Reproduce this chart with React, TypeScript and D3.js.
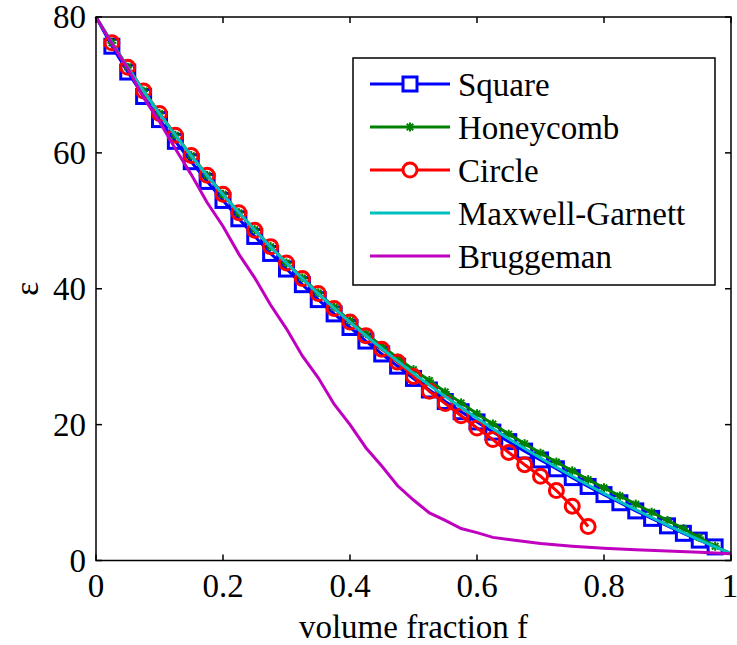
import React from "react";
import * as d3 from "d3";

const fGrid = [0.025, 0.05, 0.075, 0.1, 0.125, 0.15, 0.175, 0.2, 0.225, 0.25, 0.275, 0.3, 0.325, 0.35, 0.375, 0.4, 0.425, 0.45, 0.475, 0.5, 0.525, 0.55, 0.575, 0.6, 0.625, 0.65, 0.675, 0.7, 0.725, 0.75, 0.775, 0.8, 0.825, 0.85, 0.875, 0.9, 0.925, 0.95, 0.975];

const squareEps = [75.7, 71.9, 68.3, 64.9, 61.7, 58.7, 55.8, 53.0, 50.3, 47.7, 45.2, 42.9, 40.6, 38.4, 36.3, 34.3, 32.3, 30.4, 28.6, 26.8, 25.1, 23.4, 21.9, 20.4, 18.9, 17.5, 16.1, 14.8, 13.5, 12.2, 10.9, 9.7, 8.5, 7.3, 6.2, 5.1, 4.0, 3.0, 2.0];

const honeycombEps = [76.2, 72.6, 69.1, 65.8, 62.6, 59.6, 56.7, 53.9, 51.2, 48.7, 46.2, 43.8, 41.6, 39.4, 37.3, 35.3, 33.4, 31.6, 29.8, 28.1, 26.5, 24.8, 23.2, 21.6, 20.1, 18.6, 17.2, 15.8, 14.5, 13.2, 11.9, 10.7, 9.5, 8.3, 7.1, 5.9, 4.7, 3.4, 2.1];

const circleF = [0.025, 0.05, 0.075, 0.1, 0.125, 0.15, 0.175, 0.2, 0.225, 0.25, 0.275, 0.3, 0.325, 0.35, 0.375, 0.4, 0.425, 0.45, 0.475, 0.5, 0.525, 0.55, 0.575, 0.6, 0.625, 0.65, 0.675, 0.7, 0.725, 0.75, 0.775];
const circleEps = [76.2, 72.6, 69.1, 65.8, 62.6, 59.6, 56.7, 53.9, 51.2, 48.6, 46.2, 43.8, 41.5, 39.3, 37.1, 35.1, 33.1, 31.1, 29.2, 27.1, 24.9, 23.1, 21.3, 19.5, 17.8, 15.9, 14.1, 12.4, 10.3, 8.0, 5.0];

const mgF = [0, 0.025, 0.05, 0.075, 0.1, 0.125, 0.15, 0.175, 0.2, 0.225, 0.25, 0.275, 0.3, 0.325, 0.35, 0.375, 0.4, 0.425, 0.45, 0.475, 0.5, 0.525, 0.55, 0.575, 0.6, 0.625, 0.65, 0.675, 0.7, 0.725, 0.75, 0.775, 0.8, 0.825, 0.85, 0.875, 0.9, 0.925, 0.95, 0.975, 1.0];
const mgEps = [80, 76.19, 72.56, 69.09, 65.78, 62.61, 59.58, 56.67, 53.88, 51.21, 48.64, 46.16, 43.78, 41.49, 39.28, 37.15, 35.1, 33.11, 31.2, 29.34, 27.55, 25.82, 24.14, 22.51, 20.93, 19.41, 17.92, 16.48, 15.08, 13.73, 12.41, 11.12, 9.88, 8.66, 7.48, 6.33, 5.21, 4.11, 3.05, 2.01, 1.0];

const brugF = [0, 0.025, 0.05, 0.075, 0.1, 0.125, 0.15, 0.175, 0.2, 0.225, 0.25, 0.275, 0.3, 0.325, 0.35, 0.375, 0.4, 0.425, 0.45, 0.475, 0.5, 0.525, 0.55, 0.575, 0.6, 0.625, 0.65, 0.7, 0.75, 0.8, 0.85, 0.9, 0.95, 1.0];
const brugEps = [80, 76.1, 72.4, 68.1, 64.6, 60.6, 56.8, 52.7, 49.2, 45.1, 41.6, 37.6, 34.1, 30.1, 26.9, 23.0, 20.0, 16.6, 13.9, 11.0, 8.9, 7.0, 5.9, 4.7, 4.1, 3.4, 3.1, 2.5, 2.1, 1.8, 1.6, 1.4, 1.2, 1.0];

const xTicks = [0, 0.2, 0.4, 0.6, 0.8, 1];
const xTickLabels = ["0", "0.2", "0.4", "0.6", "0.8", "1"];
const yTicks = [0, 20, 40, 60, 80];

const legendNames = ["Square", "Honeycomb", "Circle", "Maxwell-Garnett", "Bruggeman"];
const colors = ["#0000ff", "#008000", "#ff0000", "#00bfbf", "#bf00bf"];

const W = 737, H = 645;
const L = 96, R = 731, T = 17, B = 560.5;

function Star({ x, y, c }: { x: number; y: number; c: string }) {
  const s = 4.5;
  const d = s * 0.72;
  return (
    <g stroke={c} strokeWidth={2}>
      <line x1={x - s} y1={y} x2={x + s} y2={y} />
      <line x1={x} y1={y - s} x2={x} y2={y + s} />
      <line x1={x - d} y1={y - d} x2={x + d} y2={y + d} />
      <line x1={x - d} y1={y + d} x2={x + d} y2={y - d} />
    </g>
  );
}

function T33(props: any) {
  const { children, ...rest } = props;
  return (
    <text {...rest} fontFamily="Liberation Serif" fontSize={33} fill="#000" className="serifTxt">{children}</text>
  );
}

export default function App() {
  const x = d3.scaleLinear().domain([0, 1]).range([L, R]);
  const y = d3.scaleLinear().domain([0, 80]).range([B, T]);
  const line = d3.line<[number, number]>().x((d) => x(d[0])).y((d) => y(d[1]));

  const sq = fGrid.map((f, i) => [f, squareEps[i]] as [number, number]);
  const hc = fGrid.map((f, i) => [f, honeycombEps[i]] as [number, number]);
  const ci = circleF.map((f, i) => [f, circleEps[i]] as [number, number]);
  const mg = mgF.map((f, i) => [f, mgEps[i]] as [number, number]);
  const br = brugF.map((f, i) => [f, brugEps[i]] as [number, number]);

  const lw = 3;
  const sqS = 14;
  const cr = 7;

  const legX0 = 353, legY0 = 58, legW = 362, legH = 227;
  const rowY = (i: number) => 84 + i * 43;

  return (
    <div style={{ fontFamily: '"Liberation Serif", serif', position: "absolute", left: 0, top: 0, width: W, height: H }}>
      <style>{`.serifTxt { font-family: "Liberation Serif", "Times New Roman", serif !important; }`}</style>
      <svg width={W} height={H} style={{ display: "block", background: "#fff" }} fontFamily="Liberation Serif">
        <rect x={0} y={0} width={W} height={H} fill="#fff" />
        <path d={line([[0, 80], ...sq]) || ""} fill="none" stroke={colors[0]} strokeWidth={lw} />
        {sq.map((d, i) => (
          <rect key={"s" + i} x={x(d[0]) - sqS / 2} y={y(d[1]) - sqS / 2} width={sqS} height={sqS} fill="none" stroke={colors[0]} strokeWidth={lw} />
        ))}
        <path d={line([[0, 80], ...hc, [1, 1]]) || ""} fill="none" stroke={colors[1]} strokeWidth={lw} />
        {hc.map((d, i) => (
          <Star key={"h" + i} x={x(d[0])} y={y(d[1])} c={colors[1]} />
        ))}
        <path d={line(ci) || ""} fill="none" stroke={colors[2]} strokeWidth={lw} />
        {ci.map((d, i) => (
          <circle key={"c" + i} cx={x(d[0])} cy={y(d[1])} r={cr} fill="none" stroke={colors[2]} strokeWidth={lw} />
        ))}
        <path d={line(mg) || ""} fill="none" stroke={colors[3]} strokeWidth={lw} />
        <path d={line(br) || ""} fill="none" stroke={colors[4]} strokeWidth={lw} />

        <rect x={L} y={T} width={R - L} height={B - T} fill="none" stroke="#000" strokeWidth={1.5} />
        {xTicks.map((t, i) => (
          <g key={"xt" + i}>
            <line x1={x(t)} x2={x(t)} y1={B} y2={B - 6} stroke="#000" strokeWidth={1.5} />
            <line x1={x(t)} x2={x(t)} y1={T} y2={T + 6} stroke="#000" strokeWidth={1.5} />
            <T33 x={i === xTicks.length - 1 ? x(t) - 1 : x(t)} y={B + 36} textAnchor="middle">{xTickLabels[i]}</T33>
          </g>
        ))}
        {yTicks.map((t, i) => (
          <g key={"yt" + i}>
            <line x1={L} x2={L + 6} y1={y(t)} y2={y(t)} stroke="#000" strokeWidth={1.5} />
            <line x1={R} x2={R - 6} y1={y(t)} y2={y(t)} stroke="#000" strokeWidth={1.5} />
            <T33 x={86} y={y(t) + 11} textAnchor="end">{String(t)}</T33>
          </g>
        ))}
        <T33 x={(L + R) / 2} y={638} textAnchor="middle">volume fraction f</T33>
        <T33 transform={`translate(38, ${(T + B) / 2}) rotate(-90)`} textAnchor="middle">ε</T33>

        <rect x={legX0} y={legY0} width={legW} height={legH} fill="#fff" stroke="#000" strokeWidth={1.5} />
        {legendNames.map((n, i) => {
          const yy = rowY(i);
          return (
            <g key={"lg" + i}>
              <line x1={370} x2={450} y1={yy} y2={yy} stroke={colors[i]} strokeWidth={lw} />
              {i === 0 && <rect x={410 - sqS / 2} y={yy - sqS / 2} width={sqS} height={sqS} fill="#fff" stroke={colors[0]} strokeWidth={lw} />}
              {i === 1 && <Star x={410} y={yy} c={colors[1]} />}
              {i === 2 && <circle cx={410} cy={yy} r={cr} fill="#fff" stroke={colors[2]} strokeWidth={lw} />}
              <T33 x={458} y={yy + 12}>{n}</T33>
            </g>
          );
        })}
      </svg>
    </div>
  );
}
